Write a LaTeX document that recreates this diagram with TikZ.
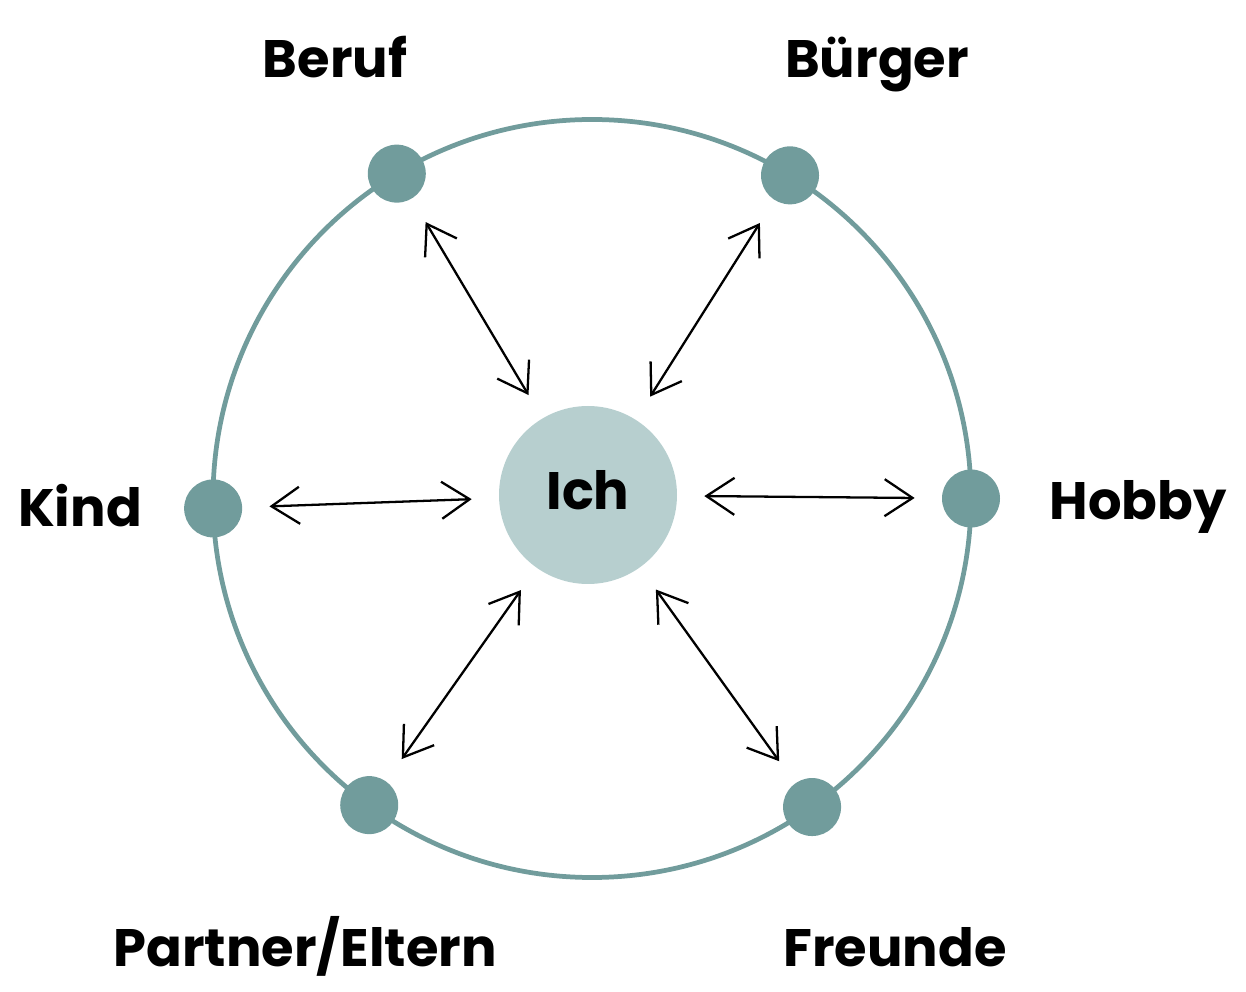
\documentclass[tikz,border=0pt]{standalone}
\usepackage{fontspec}
\setsansfont{Poppins}
\usetikzlibrary{arrows.meta}
\definecolor{ringteal}{HTML}{719C9C}
\definecolor{ichfill}{HTML}{B7CFCF}
\begin{document}
\begin{tikzpicture}[
		dot/.style={
			circle,
			fill=ringteal,
			minimum size=1.16cm,
			inner sep=0pt
		},
		ichbox/.style={
			circle,
			fill=ichfill,
			minimum size=3.56cm,
			inner sep=0pt,
			font=\sffamily\bfseries\fontsize{30}{36}\selectfont
		},
		lbl/.style={
			anchor=base,
			font=\sffamily\bfseries\fontsize{30}{36}\selectfont
		},
		link/.style={
			draw,
			line width=1.3pt,
			{Straight Barb[length=0.56cm,width=0.74cm]}-{Straight Barb[length=0.56cm,width=0.74cm]},
			shorten <=0.54cm,
			shorten >=0.54cm
		}
		]
		
		% page frame
		\useasboundingbox (-11.84,-9.87) rectangle (13.08,9.97);
		
		% outer ring
		\draw[ringteal, line width=2.7pt] (0,0) circle (7.58cm);
		
		% centre
		\node[ichbox] (ich) at (-0.08,0.07) {};
		\node[lbl] (lich) at (-0.08,-0.23) {Ich};
		
		% dots on the ring
		\node[dot] (beruf) at (121:7.58) {};
		\node[dot] (buerger) at (58.5:7.58) {};
		\node[dot] (hobby) at (0:7.58) {};
		\node[dot] (freunde) at (-54.5:7.58) {};
		\node[dot] (partner) at (-126:7.58) {};
		\node[dot] (kind) at (181.5:7.58) {};
		
		% labels
		\node[lbl] (lberuf) at (-5.14,8.41) {Beruf};
		\node[lbl] (lbuerger) at (5.70,8.41) {Bürger};
		\node[lbl] (lkind) at (-10.24,-0.57) {Kind};
		\node[lbl] (lhobby) at (10.92,-0.43) {Hobby};
		\node[lbl] (lpartner) at (-5.74,-9.35) {Partner/Eltern};
		\node[lbl] (lfreunde) at (6.06,-9.35) {Freunde};
		
		% arrows
		\draw[link] (ich) -- (beruf);
		\draw[link] (ich) -- (buerger);
		\draw[link] (ich) -- (hobby);
		\draw[link] (ich) -- (freunde);
		\draw[link] (ich) -- (partner);
		\draw[link] (ich) -- (kind);
		
	\end{tikzpicture}
\end{document}
